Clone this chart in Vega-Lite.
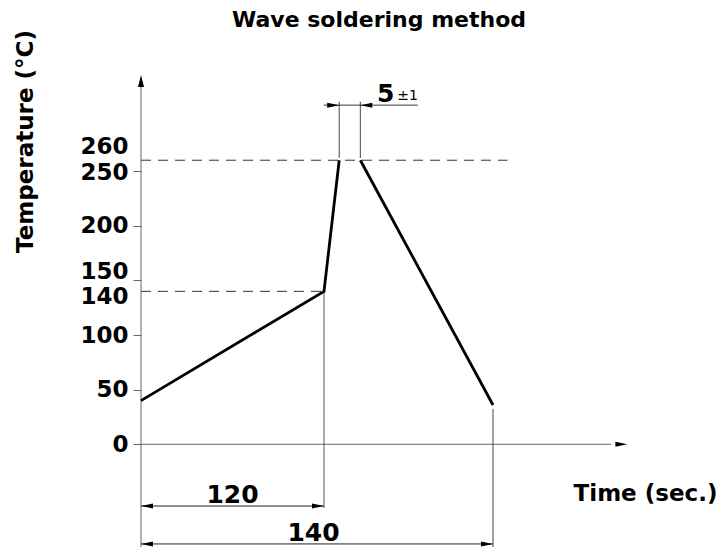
{
  "$schema": "https://vega.github.io/schema/vega-lite/v6.json",
  "autosize": {"type": "none"},
  "padding": {"left": 141, "top": 75, "right": 0, "bottom": 1},
  "width": 576,
  "height": 472,
  "background": "white",
  "title": {"text": "Wave soldering method", "font": "DejaVu Sans", "fontWeight": "bold", "fontSize": 22, "color": "black", "anchor": "middle", "frame": "group", "dx": -50, "dy": 6},
  "config": {"view": {"stroke": null}, "axis": {"grid": false}},
  "datasets": {
    "profile": [
      {"t": 0, "temp": 40, "seg": "heat"},
      {"t": 120, "temp": 140, "seg": "heat"},
      {"t": 121.8, "temp": 260, "seg": "heat"},
      {"t": 124.3, "temp": 260, "seg": "cool"},
      {"t": 140, "temp": 36, "seg": "cool"}
    ],
    "lines": [
      {"t": 0, "t2": 0, "temp": -94, "temp2": 334, "style": "axis"},
      {"t": 0, "t2": 154, "temp": 0, "temp2": 0, "style": "axis"},
      {"t": 0, "t2": 141.7, "temp": 260, "temp2": 260, "style": "dash"},
      {"t": 0, "t2": 119.8, "temp": 140, "temp2": 140, "style": "dash"},
      {"t": 120, "t2": 120, "temp": 140, "temp2": -58.3, "style": "ext"},
      {"t": 140, "t2": 140, "temp": 32.3, "temp2": -94, "style": "ext"},
      {"t": 121.8, "t2": 121.8, "temp": 262, "temp2": 313.5, "style": "ext"},
      {"t": 124.3, "t2": 124.3, "temp": 262, "temp2": 313.5, "style": "ext"},
      {"t": 0, "t2": 120, "temp": -56.5, "temp2": -56.5, "style": "dim"},
      {"t": 0, "t2": 140, "temp": -91.2, "temp2": -91.2, "style": "dim"},
      {"t": 119.85, "t2": 131.1, "temp": 310.4, "temp2": 310.4, "style": "dim"}
    ],
    "arrows": [
      {"t": 0, "temp": -56.5, "dir": "L"},
      {"t": 120, "temp": -56.5, "dir": "R"},
      {"t": 0, "temp": -91.2, "dir": "L"},
      {"t": 140, "temp": -91.2, "dir": "R"},
      {"t": 121.8, "temp": 310.4, "dir": "R"},
      {"t": 124.3, "temp": 310.4, "dir": "L"},
      {"t": 155.9, "temp": 0, "dir": "R"},
      {"t": 0, "temp": 338, "dir": "U"}
    ],
    "dimlabels": [
      {"t": 60, "temp": -56.5, "label": "120"},
      {"t": 113.1, "temp": -91.2, "label": "140"},
      {"t": 127.3, "temp": 310.4, "label": "5"}
    ],
    "tol": [
      {"t": 129.9, "temp": 310.4, "label": "±1"}
    ]
  },
  "encoding": {
    "x": {
      "field": "t", "type": "quantitative",
      "scale": {"domain": [0, 120, 140], "range": [0, 183, 352], "nice": false, "zero": false},
      "axis": {"title": "Time (sec.)", "labels": false, "ticks": false, "domain": false, "grid": false,
        "titleX": 504, "titleY": -47, "titleBaseline": "alphabetic", "titleAlign": "center",
        "titleFont": "DejaVu Sans", "titleFontWeight": "bold", "titleFontSize": 23, "titleColor": "black"}
    },
    "y": {
      "field": "temp", "type": "quantitative",
      "scale": {"domain": [-94, 338], "nice": false, "zero": false},
      "axis": {
        "orient": "left",
        "values": [0, 50, 100, 140, 150, 200, 250, 260],
        "domain": false, "grid": false,
        "labelOverlap": false, "labelBound": false, "labelFlush": false,
        "tickSize": 8, "tickColor": "#666666", "tickWidth": 1,
        "tickOpacity": {"condition": {"test": "datum.value == 140 || datum.value == 260", "value": 0}, "value": 1},
        "labelFont": "DejaVu Sans", "labelFontWeight": "bold", "labelFontSize": 23, "labelColor": "black",
        "labelPadding": 5, "labelBaseline": "middle",
        "labelOffset": {"condition": [
          {"test": "datum.value == 260", "value": -14},
          {"test": "datum.value == 250", "value": 1},
          {"test": "datum.value == 150", "value": -9},
          {"test": "datum.value == 140", "value": 5}
        ], "value": 0},
        "title": "Temperature (°C)",
        "titleFont": "DejaVu Sans", "titleFontWeight": "bold", "titleFontSize": 23, "titleColor": "black",
        "titleAngle": -90, "titleX": -108.7, "titleY": 66, "titleBaseline": "alphabetic", "titleAlign": "center"
      }
    }
  },
  "layer": [
    {
      "data": {"name": "lines"},
      "mark": {"type": "rule", "strokeWidth": 1},
      "encoding": {
        "x2": {"field": "t2"},
        "y2": {"field": "temp2"},
        "color": {"field": "style", "type": "nominal", "legend": null,
          "scale": {"domain": ["axis", "dash", "ext", "dim"], "range": ["#666666", "#333333", "#444444", "#222222"]}},
        "strokeDash": {"field": "style", "type": "nominal", "legend": null,
          "scale": {"domain": ["axis", "dash", "ext", "dim"], "range": [[1, 0], [10, 7], [1, 0], [1, 0]]}}
      }
    },
    {
      "data": {"name": "profile"},
      "mark": {"type": "line", "color": "black", "strokeWidth": 2.8, "strokeJoin": "miter"},
      "encoding": {"detail": {"field": "seg", "type": "nominal"}}
    },
    {
      "data": {"name": "arrows"},
      "mark": {"type": "point", "filled": true, "opacity": 1, "size": 144, "color": "black", "strokeWidth": 0},
      "encoding": {
        "shape": {"field": "dir", "type": "nominal", "legend": null,
          "scale": {"domain": ["L", "R", "U"], "range": ["M0,0L2,-0.42L2,0.42Z", "M0,0L-2,-0.42L-2,0.42Z", "M0,0L-0.5,2L0.5,2Z"]}}
      }
    },
    {
      "data": {"name": "dimlabels"},
      "mark": {"type": "text", "font": "DejaVu Sans", "fontWeight": "bold", "fontSize": 25, "color": "black", "align": "center", "baseline": "alphabetic", "dy": -3},
      "encoding": {"text": {"field": "label"}}
    },
    {
      "data": {"name": "tol"},
      "mark": {"type": "text", "font": "DejaVu Sans", "fontSize": 14, "color": "black", "align": "center", "baseline": "alphabetic", "dy": -5},
      "encoding": {"text": {"field": "label"}}
    }
  ]
}
